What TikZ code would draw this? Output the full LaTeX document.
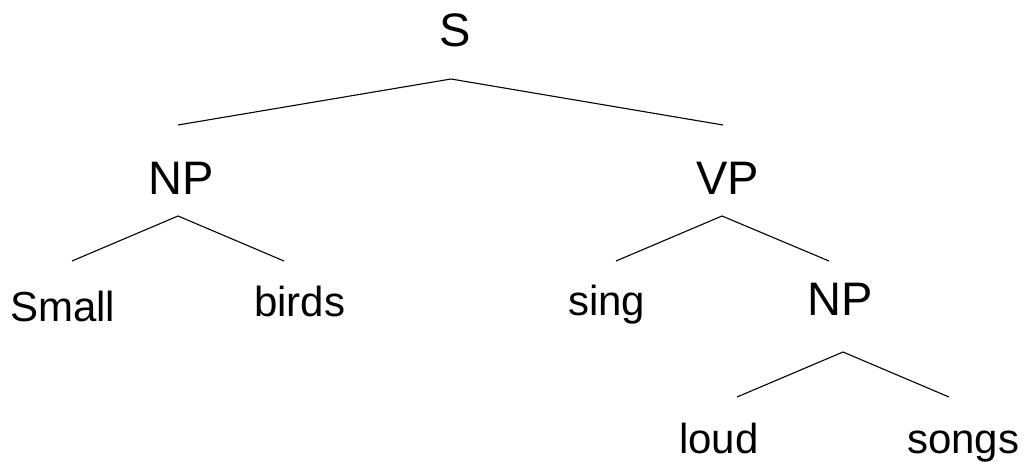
\documentclass[tikz,border=0pt]{standalone}
\usepackage{fontspec}
\setmainfont{Liberation Sans}
\begin{document}
\begin{tikzpicture}[x=1pt,y=-1pt,
  lbl/.style={inner sep=0pt,font=\fontsize{42}{48}\selectfont},
  cat/.style={inner sep=0pt,font=\fontsize{47}{54}\selectfont},
  edge/.style={line width=1.1pt,black}]
\useasboundingbox (0,0) rectangle (1024,462);
% labels
\node[cat,anchor=base] (S) at (455.5,47) {S};
\node[cat,anchor=base] (NP1) at (181.5,195) {NP};
\node[cat,anchor=base] (VP) at (727.5,195) {VP};
\node[lbl,anchor=base west] (small) at (10,321) {Small};
\node[lbl,anchor=base west] (birds) at (254,316) {birds};
\node[lbl,anchor=base west] (sing) at (568,315) {sing};
\node[cat,anchor=base] (NP2) at (840.5,315) {NP};
\node[lbl,anchor=base west] (loud) at (679,453) {loud};
\node[lbl,anchor=base west] (songs) at (907,453) {songs};
% connector points
\coordinate (sTop) at (451,79);
\coordinate (sL) at (178,125);
\coordinate (sR) at (723,125);
\coordinate (npTop) at (178,216);
\coordinate (npL) at (72,261);
\coordinate (npR) at (284,261);
\coordinate (vpTop) at (722,216);
\coordinate (vpL) at (616,261);
\coordinate (vpR) at (829,261);
\coordinate (np2Top) at (843,352);
\coordinate (np2L) at (737,397);
\coordinate (np2R) at (949,397);
% connectors
\draw[edge] (sL) -- (sTop) -- (sR);
\draw[edge] (npL) -- (npTop) -- (npR);
\draw[edge] (vpL) -- (vpTop) -- (vpR);
\draw[edge] (np2L) -- (np2Top) -- (np2R);
\end{tikzpicture}
\end{document}
